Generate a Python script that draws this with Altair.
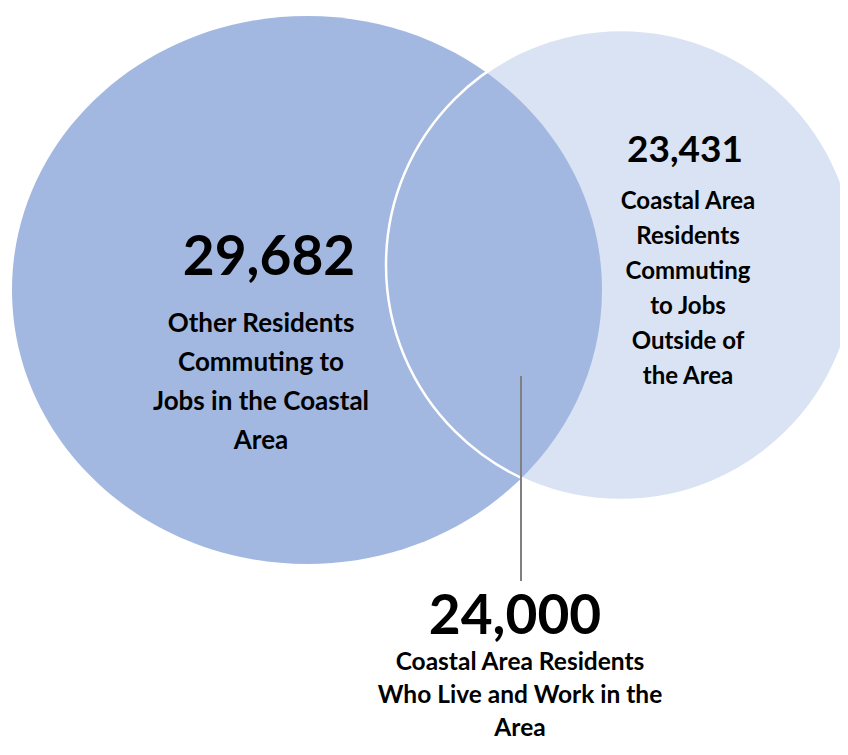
import altair as alt
import pandas as pd

# ---- data ----
groups = ["Other Residents In", "Residents Out", "Live and Work"]
values = ["29,682", "23,431", "24,000"]
labels = [
    "Other Residents\nCommuting to\nJobs in the Coastal\nArea",
    "Coastal Area\nResidents\nCommuting\nto Jobs\nOutside of\nthe Area",
    "Coastal Area Residents\nWho Live and Work in the\nArea",
]

# ---- layout (picture pixel coordinates) ----
W, H = 832, 739
circle_names = ["Other Residents In", "Residents Out"]
circle_x = [307, 621]
circle_y = [290, 265]
circle_rx = [295, 235]
circle_ry = [274, 235]
circle_fill = ["#A2B8E0", "#DAE3F3"]

value_x = [269, 685, 515]
value_y = [275, 162, 634]
value_size = [55, 37, 55]

label_x = [261, 688, 520]
label_y = [332, 209, 670]
label_size = [26, 24, 24.5]
label_lh = [39, 35, 33]

leader_x = [521]
leader_y = [376]
leader_y2 = [581]

FONT = "Lato"

xs = alt.Scale(domain=[8, 8 + W])
ys = alt.Scale(domain=[8, 8 + H], reverse=True)


def ellipse_path(rx, ry):
    k = rx / ry
    return f"M{-k},0A{k},1,0,1,0,{k},0A{k},1,0,1,0,{-k},0Z"


circles = pd.DataFrame({"name": circle_names, "x": circle_x, "y": circle_y})


def circle_layer(i, filled=True):
    d = circles.iloc[[i]]
    size = (2 * circle_ry[i]) ** 2
    if filled:
        m = alt.Chart(d).mark_point(
            shape=ellipse_path(circle_rx[i], circle_ry[i]),
            filled=True, fill=circle_fill[i], opacity=1, strokeWidth=0, size=size,
        )
    else:
        m = alt.Chart(d).mark_point(
            shape=ellipse_path(circle_rx[i], circle_ry[i]),
            filled=False, stroke="white", strokeWidth=2.5, opacity=1, size=size,
        )
    return m.encode(
        x=alt.X("x:Q", scale=xs, axis=None),
        y=alt.Y("y:Q", scale=ys, axis=None),
    )


right_fill = circle_layer(1, True)
left_fill = circle_layer(0, True)
right_outline = circle_layer(1, False)

leader = alt.Chart(pd.DataFrame({"x": leader_x, "y": leader_y, "y2": leader_y2})).mark_rule(
    color="#808080", strokeWidth=2
).encode(
    x=alt.X("x:Q", scale=xs, axis=None),
    y=alt.Y("y:Q", scale=ys, axis=None),
    y2="y2:Q",
)

text_layers = []
for i in range(3):
    dv = pd.DataFrame({"group": [groups[i]], "value": [values[i]], "x": [value_x[i]], "y": [value_y[i]]})
    text_layers.append(
        alt.Chart(dv).mark_text(
            font=FONT, fontWeight="bold", fontSize=value_size[i], color="black",
            align="center", baseline="alphabetic",
        ).encode(
            x=alt.X("x:Q", scale=xs, axis=None),
            y=alt.Y("y:Q", scale=ys, axis=None),
            text="value:N",
        )
    )
    dl = pd.DataFrame({"group": [groups[i]], "label": [labels[i]], "x": [label_x[i]], "y": [label_y[i]]})
    text_layers.append(
        alt.Chart(dl).mark_text(
            font=FONT, fontWeight="bold", fontSize=label_size[i], color="black",
            align="center", baseline="alphabetic", lineBreak="\n", lineHeight=label_lh[i],
        ).encode(
            x=alt.X("x:Q", scale=xs, axis=None),
            y=alt.Y("y:Q", scale=ys, axis=None),
            text="label:N",
        )
    )

chart = alt.layer(right_fill, left_fill, right_outline, leader, *text_layers).properties(
    width=W, height=H, autosize=alt.AutoSizeParams(type="none"), padding=0,
    background="white",
).configure_view(stroke=None)

chart.save("out.html", embed_options={"renderer": "svg", "actions": False})
